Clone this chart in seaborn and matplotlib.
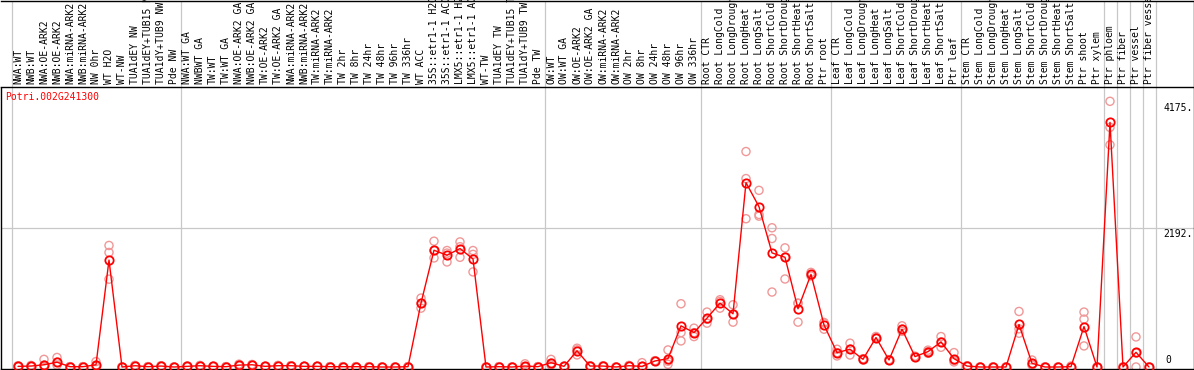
import matplotlib
matplotlib.use("Agg")
import matplotlib.pyplot as plt
import matplotlib.transforms as mtransforms
import seaborn as sns
import numpy as np
import pandas as pd

labels = [
    "NWA:WT", "NWB:WT", "NWA:OE-ARK2", "NWB:OE-ARK2", "NWA:miRNA-ARK2", "NWB:miRNA-ARK2",
    "NW 0hr", "WT H2O", "WT-NW", "TUA1dEY NW", "TUA1dEY+TUB15 NW", "TUA1dY+TUB9 NW", "Pde NW",
    "NWA:WT GA", "NWBWT GA", "TW:WT", "TW:WT GA", "NWA:OE-ARK2 GA", "NWB:OE-ARK2 GA",
    "TW:OE-ARK2", "TW:OE-ARK2 GA", "NWA:miRNA-ARK2", "NWB:miRNA-ARK2", "TW:miRNA-ARK2",
    "TW:miRNA-ARK2", "TW 2hr", "TW 8hr", "TW 24hr", "TW 48hr", "TW 96hr", "TW 336hr",
    "WT ACC", "35S::etr1-1 H2O", "35S::etr1-1 ACC", "LMX5::etr1-1 H2O", "LMX5::etr1-1 ACC",
    "WT-TW", "TUA1dEY TW", "TUA1dEY+TUB15 TW", "TUA1dY+TUB9 TW", "Pde TW",
    "OW:WT", "OW:WT GA", "OW:OE-ARK2", "OW:OE-ARK2 GA", "OW:miRNA-ARK2", "OW:miRNA-ARK2",
    "OW 2hr", "OW 8hr", "OW 24hr", "OW 48hr", "OW 96hr", "OW 336hr",
    "Root CTR", "Root LongCold", "Root LongDrought", "Root LongHeat", "Root LongSalt",
    "Root ShortCold", "Root ShortDrought", "Root ShortHeat", "Root ShortSalt", "Ptr root",
    "Leaf CTR", "Leaf LongCold", "Leaf LongDrought", "Leaf LongHeat", "Leaf LongSalt",
    "Leaf ShortCold", "Leaf ShortDrought", "Leaf ShortHeat", "Leaf ShortSalt", "Ptr leaf",
    "Stem CTR", "Stem LongCold", "Stem LongDrought", "Stem LongHeat", "Stem LongSalt",
    "Stem ShortCold", "Stem ShortDrought", "Stem ShortHeat", "Stem ShortSalt", "Ptr shoot",
    "Ptr xylem", "Ptr phloem", "Ptr fiber", "Ptr vessel", "Ptr fiber vessel",
]

means = [
    10, 15, 35, 75, 5, 5, 35, 1680, 0, 20, 5, 15, 0,
    10, 20, 10, 5, 30, 35, 10, 20, 20, 10, 10, 5, 5, 5, 5, 0, 0, 5,
    1004, 1835, 1756, 1861, 1698, 0, 5, 0, 15, 5,
    68, 10, 255, 15, 15, 0, 20, 10, 95, 131, 647, 541,
    768, 1004, 836, 2897, 2519, 1793, 1724, 915, 1456, 662,
    226, 279, 121, 463, 110, 594, 163, 242, 394, 131,
    15, 0, 0, 0, 668, 58, 0, 0, 5, 636,
    0, 3844, 0, 231, 0,
]

rep1 = [
    20, 25, 120, 150, 5, 5, 85, 1910, 0, 25, 5, 20, 0,
    15, 25, 10, 5, 45, 40, 10, 25, 20, 10, 10, 5, 5, 5, 5, 0, 0, 5,
    1083, 1977, 1830, 1966, 1830, 0, 5, 0, 50, 5,
    120, 15, 295, 20, 20, 0, 25, 68, 100, 268, 994, 610,
    863, 1057, 978, 3386, 2776, 2188, 1872, 1004, 1487, 594,
    279, 374, 130, 480, 115, 647, 170, 265, 478, 226,
    20, 0, 0, 0, 873, 110, 0, 0, 15, 863,
    0, 4175, 0, 473, 0,
]

rep2 = [
    5, 10, 30, 75, 5, 5, 30, 1800, 0, 15, 5, 10, 0,
    5, 15, 10, 5, 30, 30, 10, 15, 20, 10, 10, 5, 5, 5, 5, 0, 0, 5,
    925, 1714, 1651, 1724, 1494, 0, 5, 0, 5, 5,
    60, 5, 190, 10, 10, 0, 15, 5, 90, 42, 541, 478,
    689, 925, 705, 2961, 2397, 2019, 1383, 705, 1430, 700,
    174, 189, 110, 450, 105, 560, 155, 215, 310, 100,
    10, 0, 0, 0, 531, 40, 0, 0, 5, 752,
    0, 3765, 0, 0, 0,
]

rep3 = [
    10, 10, 10, 30, 5, 5, 10, 1380, 0, 20, 5, 15, 0,
    10, 20, 10, 5, 20, 35, 10, 20, 20, 10, 10, 5, 5, 5, 5, 0, 0, 5,
    1000, 1830, 1790, 1890, 1770, 0, 5, 0, 0, 5,
    30, 10, 270, 15, 15, 0, 20, 10, 95, 90, 410, 540,
    750, 1030, 830, 2330, 2371, 1178, 1724, 1000, 1450, 690,
    225, 280, 121, 463, 110, 594, 163, 242, 394, 80,
    15, 0, 0, 0, 600, 30, 0, 0, 5, 331,
    0, 3491, 0, 220, 0,
]

group_edges = [-0.5, 12.5, 40.5, 52.5, 62.5, 72.5, 83.5, 84.5, 85.5, 86.5, 87.5]
y_mid_grid = 2192
y_top_axis = 4384
y_max_label = 4175
title = "Potri.002G241300"

# ---------------------------------------------------------------
sns.set_theme(style="white")
plt.rcParams['font.family'] = ['DejaVu Sans Mono']

W, H = 1194, 370
fig = plt.figure(figsize=(W / 100, H / 100), dpi=100)
fig.patch.set_facecolor("white")

X0, STEP = 18.0, 13.0
L_px, R_px = 0.5, 1193.5
AX_TOP_px, AX_BOT_px = 87.0, 368.5
ZERO_px = 367.0

ax = fig.add_axes([L_px / W, 1 - AX_BOT_px / H, (R_px - L_px) / W, (AX_BOT_px - AX_TOP_px) / H])
axl = fig.add_axes([L_px / W, 1 - AX_TOP_px / H, (R_px - L_px) / W, (AX_TOP_px - 0.5) / H])

xlim = ((L_px - X0) / STEP, (R_px - X0) / STEP)
scale = (ZERO_px - AX_TOP_px) / 4400.0
ylim = (-(AX_BOT_px - ZERO_px) / scale, 4400.0)

pos = np.arange(len(labels))
df_mean = pd.DataFrame({"pos": pos, "value": means})
df_rep = pd.DataFrame({
    "pos": np.concatenate([pos, pos, pos]),
    "value": np.concatenate([rep1, rep2, rep3]),
})

grid_c = "#c8c8c8"
for e in group_edges:
    ax.axvline(e, color=grid_c, lw=0.9, zorder=0)
    axl.axvline(e, color=grid_c, lw=0.9, zorder=0)
ax.axhline(y_mid_grid, color=grid_c, lw=0.9, zorder=0)

sns.scatterplot(data=df_rep, x="pos", y="value", ax=ax, marker="o", s=34,
                color="#f09898", facecolor="none", edgecolor="#f09898",
                linewidth=1.0, zorder=2, legend=False)
sns.lineplot(data=df_mean, x="pos", y="value", ax=ax, color="red", lw=1.0,
             zorder=3, legend=False)
ax.plot(df_mean["pos"], df_mean["value"], linestyle="none", marker="o",
        markersize=6, markerfacecolor="none", markeredgecolor="red",
        markeredgewidth=1.3, zorder=4)

ax.set_xlim(*xlim)
ax.set_ylim(*ylim)
axl.set_xlim(*xlim)
axl.set_ylim(0, 1)
for a in (ax, axl):
    a.set_xticks([])
    a.set_yticks([])
    a.set_xlabel("")
    a.set_ylabel("")
    a.set_facecolor("white")
    for s in a.spines.values():
        s.set_color("black")
        s.set_linewidth(1.0)
axl.spines["left"].set_visible(False)
ax.spines["top"].set_visible(False)

# category labels
for i, lab in enumerate(labels):
    axl.text(i, 0.04, lab, rotation=90, ha="center", va="bottom",
             fontsize=7, color="black", clip_on=False)

# value labels on the right
tx = (1163 - X0) / STEP
down = mtransforms.offset_copy(ax.transData, fig=fig, x=0, y=-1.5, units="dots")
up = mtransforms.offset_copy(ax.transData, fig=fig, x=0, y=2, units="dots")
ax.text(tx, y_max_label, f"{y_max_label}.", transform=down, ha="left", va="top",
        fontsize=7, color="black")
ax.text(tx, y_mid_grid, f"{y_mid_grid}.", transform=down, ha="left", va="top",
        fontsize=7, color="black")
ax.text(tx + 0.15, 0, "0", transform=up, ha="left", va="bottom",
        fontsize=7, color="black")

fig.text(5 / W, 1 - 97 / H, title, color="red", ha="left", va="center", fontsize=7)

fig.savefig("out.png", dpi=100, facecolor="white")
